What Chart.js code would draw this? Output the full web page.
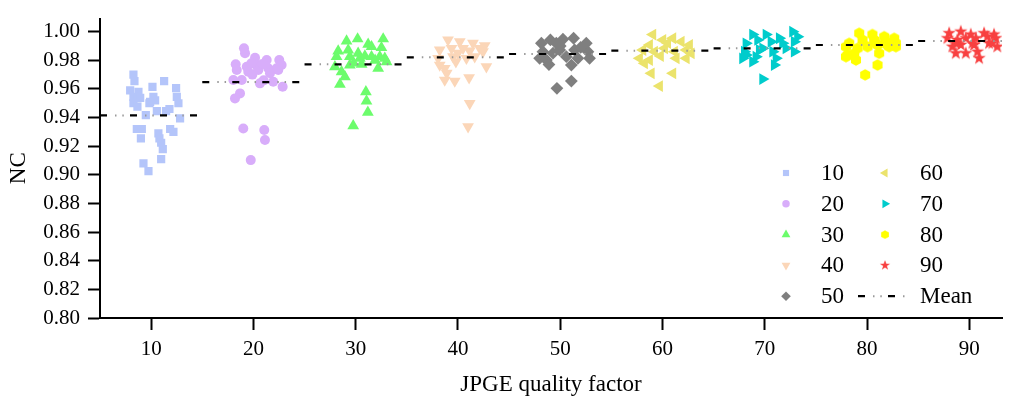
<!DOCTYPE html>
<html>
<head>
<meta charset="utf-8">
<script src="https://cdn.jsdelivr.net/npm/chart.js@4.4.1/dist/chart.umd.min.js"></script>
<style>
html,body{margin:0;padding:0;background:#fff;}
#wrap{width:1009px;height:403px;}
</style>
</head>
<body>
<div id="wrap"><canvas id="chart"></canvas></div>
<script>
const qualityFactors = [10,20,30,40,50,60,70,80,90];
const meanNC = [0.9415,0.9648,0.9772,0.9821,0.9844,0.9867,0.9884,0.9907,0.9935];
const xTicks = [10,20,30,40,50,60,70,80,90];
const yTicks = [0.80,0.82,0.84,0.86,0.88,0.90,0.92,0.94,0.96,0.98,1.00];

// [jittered quality factor, NC]
const nc10 = [[8.27,0.970],[8.37,0.9655],[11.27,0.9655],[7.95,0.959],[8.76,0.958],[10.13,0.9615],[12.44,0.9605],
    [8.27,0.9545],[8.66,0.9535],[8.93,0.9538],[10.22,0.9545],[9.9,0.951],[10.39,0.952],[12.51,0.9545],[12.67,0.950],
    [8.27,0.950],[8.66,0.9476],[9.83,0.950],[10.56,0.9445],[11.46,0.9445],[11.79,0.946],[9.48,0.9417],[12.83,0.9394],
    [8.6,0.932],[9.09,0.932],[11.86,0.932],[12.18,0.930],[9.0,0.9255],[10.71,0.929],[10.81,0.9255],[10.98,0.9224],
    [11.14,0.918],[10.98,0.911],[9.25,0.908],[9.74,0.9026]];
const nc20 = [[19.08,0.9884],[19.18,0.985],[20.16,0.9818],[21.3,0.9802],[22.53,0.9802],[18.27,0.9772],[19.35,0.9755],
    [20.32,0.9762],[21.45,0.9744],[22.28,0.9744],[22.76,0.9767],[18.37,0.9732],[19.5,0.972],[20.48,0.9732],[21.62,0.9709],
    [22.43,0.9732],[18.04,0.9662],[18.86,0.9662],[20.64,0.9639],[21.94,0.965],[22.86,0.9615],[18.69,0.9569],[18.2,0.9534],
    [19.01,0.9324],[21.06,0.9313],[21.13,0.9243],[19.74,0.9103],[19.8,0.978],[20.9,0.9775],[21.0,0.966],[19.9,0.970]];
const nc30 = [[29.11,0.9935],[30.19,0.9949],[32.69,0.9949],[28.29,0.9865],[29.27,0.9872],[31.22,0.9912],[31.55,0.9895],
    [32.52,0.9888],[28.13,0.9825],[29.43,0.9825],[30.24,0.9849],[30.41,0.9814],[31.55,0.9825],[32.36,0.9825],[32.85,0.9814],
    [27.97,0.9755],[29.43,0.9767],[30.58,0.9772],[32.2,0.9744],[33.02,0.979],[28.62,0.972],[28.95,0.9685],[28.46,0.9632],
    [31.0,0.958],[31.06,0.9515],[31.19,0.9436],[29.76,0.9343],[29.8,0.978],[30.9,0.983],[31.9,0.980]];
const nc40 = [[39.03,0.9942],[40.18,0.993],[41.47,0.9919],[42.62,0.9902],[42.13,0.9884],[38.22,0.9872],[39.37,0.9884],
    [40.5,0.9884],[41.15,0.9865],[42.45,0.986],[38.06,0.9814],[39.52,0.9825],[40.83,0.9814],[41.64,0.9825],[38.22,0.9767],
    [38.71,0.9744],[42.78,0.9755],[38.71,0.9662],[39.69,0.9655],[41.09,0.9678],[41.15,0.9499],[40.99,0.9336],
    [38.9,0.971],[40.0,0.985],[39.8,0.979]];
const nc50 = [[49.04,0.9942],[50.27,0.9947],[51.31,0.9954],[48.16,0.9919],[49.62,0.9919],[52.55,0.9919],[48.31,0.986],
    [49.95,0.9872],[51.41,0.9872],[52.71,0.986],[47.99,0.9814],[48.65,0.9802],[50.6,0.9825],[51.73,0.9814],[52.87,0.9814],
    [51.09,0.9767],[51.09,0.9655],[49.68,0.9604],[48.9,0.977],[50.0,0.990],[52.0,0.989],[49.3,0.985]];
const nc60 = [[59.05,0.998],[58.73,0.9907],[60.03,0.9942],[61.01,0.9954],[61.83,0.993],[62.64,0.9907],[58.08,0.9872],
    [59.22,0.986],[60.2,0.9884],[61.17,0.986],[62.32,0.9872],[62.81,0.9849],[57.75,0.9814],[58.73,0.9802],[61.34,0.9814],
    [62.32,0.9814],[58.24,0.9779],[58.9,0.9709],[61.01,0.9709],[59.71,0.962],[60.5,0.992],[59.8,0.983]];
const nc70 = [[68.82,0.998],[70.13,0.998],[71.43,0.9954],[72.73,1.0],[68.17,0.9919],[69.31,0.9942],[70.62,0.993],
    [71.75,0.9919],[72.89,0.993],[73.21,0.9965],[68.01,0.986],[69.47,0.9872],[70.78,0.986],[72.08,0.9884],[72.89,0.986],
    [67.84,0.9814],[68.82,0.979],[71.11,0.9814],[70.94,0.9767],[69.8,0.9669],[69.15,0.9825],[69.8,0.9884],[68.17,0.9837]];
const nc80 = [[79.24,0.9989],[80.53,0.998],[81.68,0.9965],[82.66,0.9954],[78.26,0.9919],[79.56,0.9942],[80.7,0.9942],
    [80.87,0.9919],[81.84,0.993],[82.0,0.9907],[82.82,0.9919],[77.94,0.9895],[79.08,0.9884],[80.05,0.9895],[81.03,0.9907],
    [82.17,0.9895],[82.82,0.9895],[77.94,0.9825],[78.75,0.9849],[81.19,0.9849],[78.92,0.9802],[81.03,0.9767],[79.82,0.9698],
    [78.1,0.9837]];
const nc90 = [[88.03,0.9989],[89.17,1.0],[90.15,0.998],[91.45,0.9989],[92.42,0.998],[87.86,0.9954],[88.84,0.9942],
    [89.66,0.9954],[90.64,0.9954],[91.77,0.9965],[92.59,0.9954],[88.35,0.9895],[89.17,0.9907],[90.47,0.9907],[91.93,0.9919],
    [92.74,0.9895],[88.68,0.9849],[89.66,0.9849],[90.8,0.986],[90.96,0.9814],[88.68,0.9919],[90.31,0.9919],[92.26,0.9919]];

const groups = [nc10,nc20,nc30,nc40,nc50,nc60,nc70,nc80,nc90];
const colors = ["#b4c5fa","#d8adfa","#6cfc6c","#fbd6b8","#7f7f7f","#ebe36c","#00cccc","#ffff00","#f84040"];

function polygonMarker(color, r, n, inner, rot){
    const c = document.createElement("canvas");
    const s = Math.ceil(2*r + 2);
    c.width = s; c.height = s;
    const g = c.getContext("2d");
    const pts = inner ? n*2 : n;
    g.beginPath();
    for(let i = 0; i < pts; i++){
        const a = rot + i*Math.PI*2/pts;
        const rr = inner && i % 2 ? r*inner : r;
        const px = s/2 + rr*Math.sin(a);
        const py = s/2 - rr*Math.cos(a);
        if(i === 0) g.moveTo(px,py); else g.lineTo(px,py);
    }
    g.closePath();
    g.fillStyle = color;
    g.fill();
    return c;
}

const markers = [
    {pointStyle:"rect", radius:5.8, rotation:0},
    {pointStyle:"circle", radius:5, rotation:0},
    {pointStyle:"triangle", radius:6.8, rotation:0},
    {pointStyle:"triangle", radius:6.8, rotation:180},
    {pointStyle:"rectRot", radius:6.4, rotation:0},
    {pointStyle:"triangle", radius:6.8, rotation:270},
    {pointStyle:"triangle", radius:6.8, rotation:90},
    {pointStyle:polygonMarker(colors[7],5.8,6,0,0), radius:6, rotation:0},
    {pointStyle:polygonMarker(colors[8],7,5,0.4,0), radius:7, rotation:0}
];

const meanLine = [];
qualityFactors.forEach((q,i) => {
    meanLine.push({x:q-5, y:meanNC[i]});
    meanLine.push({x:q+4.8, y:meanNC[i]});
    meanLine.push({x:q+4.8, y:null});
});

const dashPattern = [7,23];
const dotPattern = [1.5,5.8,1.5,21.2];
const dotOffset = 15;

const datasets = [{
    label:"Mean",
    data:meanLine,
    showLine:true,
    spanGaps:false,
    borderColor:"#000",
    borderWidth:2.2,
    borderDash:dashPattern,
    pointRadius:0,
    order:0
},{
    label:"Mean dots",
    data:meanLine,
    showLine:true,
    spanGaps:false,
    borderColor:"#9a9a9a",
    borderWidth:2,
    borderDash:dotPattern,
    borderDashOffset:dotOffset,
    pointRadius:0,
    order:0
}];

groups.forEach((g,i) => {
    datasets.push({
        label:String(qualityFactors[i]),
        data:g.map(p => ({x:p[0], y:p[1]})),
        pointStyle:markers[i].pointStyle,
        pointRadius:markers[i].radius,
        pointRotation:markers[i].rotation,
        pointBackgroundColor:colors[i],
        pointBorderWidth:0,
        order:1
    });
});

const FONT = "'Liberation Serif','Times New Roman',serif";

const legendPlugin = {
    id:"innerLegend",
    afterDraw(chart){
        const ctx = chart.ctx;
        const area = chart.chartArea;
        const rowH = 30.8;
        const top = area.bottom - 145;
        const col1 = area.right - 216;
        const col2 = area.right - 117;
        ctx.save();
        ctx.font = "23px " + FONT;
        ctx.textBaseline = "middle";
        qualityFactors.forEach((q,i) => {
            const col = i < 5 ? col1 : col2;
            const row = i < 5 ? i : i - 5;
            const y = top + row*rowH;
            const m = markers[i];
            ctx.fillStyle = colors[i];
            if(typeof m.pointStyle === "string"){
                Chart.helpers.drawPoint(ctx, {pointStyle:m.pointStyle, radius:m.radius*0.75, rotation:m.rotation, borderWidth:0}, col, y);
            }else{
                const w = m.pointStyle.width*0.75;
                ctx.drawImage(m.pointStyle, col - w/2, y - w/2, w, w);
            }
            ctx.fillStyle = "#000";
            ctx.fillText(String(q), col + 35, y + 1);
        });
        const y5 = top + 4*rowH;
        ctx.lineWidth = 2.2;
        ctx.strokeStyle = "#000";
        ctx.setLineDash(dashPattern);
        ctx.beginPath();
        ctx.moveTo(col2 - 27, y5);
        ctx.lineTo(col2 + 25, y5);
        ctx.stroke();
        ctx.strokeStyle = "#9a9a9a";
        ctx.lineWidth = 2;
        ctx.setLineDash(dotPattern);
        ctx.lineDashOffset = dotOffset;
        ctx.beginPath();
        ctx.moveTo(col2 - 27, y5);
        ctx.lineTo(col2 + 25, y5);
        ctx.stroke();
        ctx.setLineDash([]);
        ctx.fillStyle = "#000";
        ctx.fillText("Mean", col2 + 35, y5 + 1);
        ctx.restore();
    }
};

new Chart(document.getElementById("chart"),{
    type:"scatter",
    data:{datasets:datasets},
    options:{
        responsive:true,
        maintainAspectRatio:false,
        animation:false,
        layout:{padding:{top:14,right:0,left:0,bottom:0}},
        plugins:{legend:{display:false}, tooltip:{enabled:false}},
        scales:{
            x:{
                type:"linear",
                min:5,
                max:93.2,
                afterBuildTicks:scale => { scale.ticks = xTicks.map(v => ({value:v})); },
                afterFit:scale => { scale.height = 85; },
                border:{color:"#000", width:2},
                grid:{drawOnChartArea:false, drawTicks:true, tickLength:12, tickWidth:2, tickColor:"#000"},
                ticks:{color:"#000", padding:7, font:{family:FONT, size:21}},
                title:{display:true, text:"JPGE quality factor", color:"#000", padding:{top:6}, font:{family:FONT, size:23}}
            },
            y:{
                min:0.80,
                max:1.0092,
                afterBuildTicks:scale => { scale.ticks = yTicks.map(v => ({value:v})); },
                afterFit:scale => { scale.width = 100; },
                border:{color:"#000", width:2},
                grid:{drawOnChartArea:false, drawTicks:true, tickLength:12, tickWidth:2, tickColor:"#000"},
                ticks:{color:"#000", padding:8, font:{family:FONT, size:21, lineHeight:1}, callback:v => v.toFixed(2)},
                title:{display:true, text:"NC", color:"#000", padding:{top:5, bottom:0}, font:{family:FONT, size:23}}
            }
        }
    },
    plugins:[legendPlugin]
});
</script>
</body>
</html>
